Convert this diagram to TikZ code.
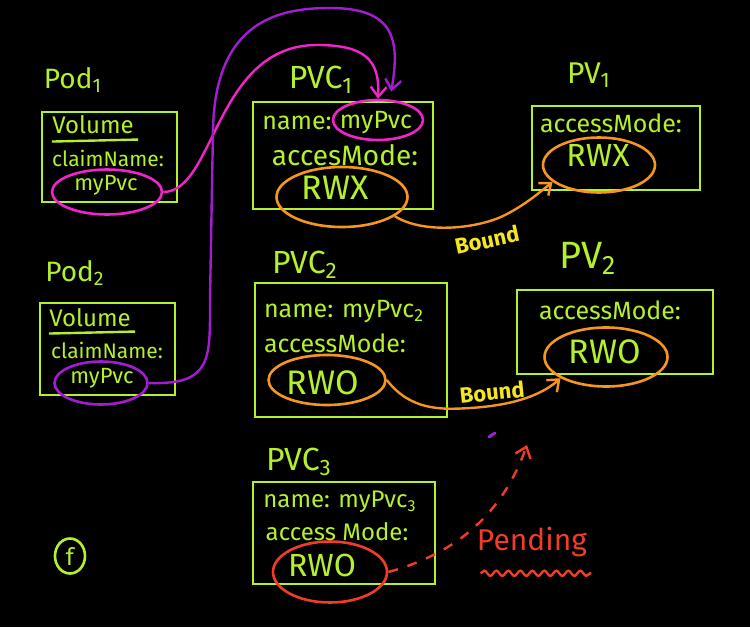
\documentclass[tikz,border=0pt]{standalone}
\usepackage{fontspec}
\setmainfont{Fira Sans}
\usepackage{tikz}
\usetikzlibrary{arrows.meta, positioning, shapes.geometric, fit, calc, decorations.pathmorphing}
\definecolor{cLime}{HTML}{B4F02C}
\definecolor{cMagenta}{HTML}{F024C8}
\definecolor{cPurple}{HTML}{A41CD2}
\definecolor{cOrange}{HTML}{F5961E}
\definecolor{cYellow}{HTML}{F5E61E}
\definecolor{cRed}{HTML}{F03C28}

\begin{document}
\begin{tikzpicture}[
    x=0.5pt, y=-0.5pt,
    box/.style={draw=cLime, line width=1.4pt, inner sep=0pt},
    title/.style={text=cLime, inner sep=0pt},
    field/.style={text=cLime, font=\fontsize{12.5}{12.5}\selectfont, inner sep=0pt},
    podfield/.style={text=cLime, font=\fontsize{10.5}{10.5}\selectfont, inner sep=0pt},
    val/.style={text=cLime, font=\fontsize{17}{17}\selectfont, inner sep=0pt},
    ring/.style={ellipse, draw=#1, line width=1.3pt, inner sep=0pt},
    link/.style={draw=#1, line width=1.2pt, -{Straight Barb[length=5pt, width=8pt]}},
    tag/.style={text=cYellow, font=\fontsize{11}{11}\selectfont\bfseries, inner sep=0pt},
]

% ---------- Background ----------
\fill[black] (0,0) rectangle (750,627);

% ---------- Titles ----------
\foreach \nm/\px/\py/\sz/\txt in {podA/73/80/14/Pod\textsubscript{1},
    podB/75/273/14/Pod\textsubscript{2}, pvcA/321/80/16/PVC\textsubscript{1},
    pvcB/305/265/16/PVC\textsubscript{2}, pvcC/299/462/16/PVC\textsubscript{3},
    pvA/589/75/15/PV\textsubscript{1}, pvB/588/258/19/PV\textsubscript{2}}{
  \node[title, font=\fontsize{\sz}{\sz}\selectfont] (\nm-title) at (\px,\py) {\txt};
}

% ---------- Boxes ----------
\node[box, fit={(42,112) (177,202)}] (podA) {};
\node[box, fit={(40,303) (175,395)}] (podB) {};
\node[box, fit={(253,102) (433,209)}] (pvcA) {};
\node[box, fit={(255,283) (447,417)}] (pvcB) {};
\node[box, fit={(253,482) (435,584)}] (pvcC) {};
\node[box, fit={(532,106) (700,190)}] (pvA) {};
\node[box, fit={(517,290) (713,374)}] (pvB) {};

% ---------- Pods ----------
\node[podfield, font=\fontsize{12}{12}\selectfont] (podAvol) at (93,125) {Volume};
\node[podfield] (podAclaim) at (108,158) {claimName:};
\node[podfield, font=\fontsize{11}{11}\selectfont] (podAtext) at (106,185) {myPvc};
\node[ring=cMagenta, minimum width=55pt, minimum height=22.5pt] (podAref) at (107,192) {};
\draw[cLime, line width=1.2pt] ($(podAvol.south west)+(0,7)$) -- ($(podAvol.south east)+(4,5)$);

\node[podfield, font=\fontsize{12}{12}\selectfont] (podBvol) at (90,318) {Volume};
\node[podfield] (podBclaim) at (107,350) {claimName:};
\node[podfield, font=\fontsize{11}{11}\selectfont] (podBtext) at (102,378) {myPvc};
\node[ring=cPurple, minimum width=46.5pt, minimum height=21.5pt] (podBref) at (101,383) {};
\draw[cLime, line width=1.2pt] ($(podBvol.south west)+(0,6)$) -- ($(podBvol.south east)+(4,4)$);

% ---------- PVCs ----------
\node[field] (pvcAkey) at (297,123) {name:};
\node[field] (pvcAtext) at (376,123) {myPvc};
\node[ring=cMagenta, minimum width=45pt, minimum height=20pt] (pvcAname) at (378,120) {};
\node[field, font=\fontsize{14}{14}\selectfont] (pvcAlab) at (345,155) {accesMode:};
\node[val] (pvcAval) at (335,188) {RWX};
\node[ring=cOrange, minimum width=65.5pt, minimum height=30pt] (pvcAmode) at (342,197) {};

\node[field] (pvcBkey) at (344,312) {name: myPvc\textsubscript{2}};
\node[field] (pvcBlab) at (335,343) {accessMode:};
\node[val] (pvcBval) at (323,383) {RWO};
\node[ring=cOrange, minimum width=58.5pt, minimum height=25pt] (pvcBmode) at (327,380) {};

\node[field, font=\fontsize{12}{12}\selectfont] (pvcCkey) at (340,502) {name: myPvc\textsubscript{3}};
\node[field, font=\fontsize{12}{12}\selectfont] (pvcClab) at (337,532) {access Mode:};
\node[val, font=\fontsize{16}{16}\selectfont] (pvcCval) at (322,565) {RWO};
\node[ring=cRed, minimum width=57pt, minimum height=30.5pt] (pvcCmode) at (330,572) {};

% ---------- PVs ----------
\node[field] (pvAlab) at (611,123) {accessMode:};
\node[val, font=\fontsize{16}{16}\selectfont] (pvAval) at (598,155) {RWX};
\node[ring=cOrange, minimum width=56pt, minimum height=27.5pt] (pvAmode) at (599,165) {};

\node[field] (pvBlab) at (610,310) {accessMode:};
\node[val] (pvBval) at (605,352) {RWO};
\node[ring=cOrange, minimum width=61.5pt, minimum height=29.5pt] (pvBmode) at (606,357) {};

% ---------- Claim arcs ----------
\draw[link=cMagenta] (podAref.east) .. controls (215,192) and (215,45) .. (317,45)
  .. controls (365,45) and (380,60) .. (pvcAname.north);
\draw[link=cPurple, shorten >=4pt] (podBref.east) .. controls (212,385) and (210,360) .. (210,300)
  -- (213,130) .. controls (215,20) and (280,8) .. (330,8)
  .. controls (395,8) and (400,40) .. (pvcAname.60);

% ---------- Bindings ----------
\draw[link=cOrange] (pvcAmode.-20) .. controls (425,235) and (480,228) .. (505,215)
  .. controls (525,205) and (540,192) .. (pvAmode.-160);
\node[tag, rotate=12] (boundA) at (487,240) {Bound};

\draw[link=cOrange] (pvcBmode.east) .. controls (410,410) and (440,410) .. (470,408)
  .. controls (520,405) and (545,392) .. (pvBmode.-155);
\node[tag, rotate=6] (boundB) at (492,392) {Bound};

\coordinate (pendTip) at (527,445);
\draw[link=cRed, dash pattern=on 5pt off 5pt] (pvcCmode.east) .. controls (450,555) and (500,520) .. (pendTip);
\node[text=cRed, font=\fontsize{15}{15}\selectfont, inner sep=0pt] (pend) at (532,542) {Pending};
\draw[cRed, line width=1.2pt, decorate, decoration={snake, amplitude=1.3pt, segment length=6pt}]
  ($(pend.south west)+(4,16)$) -- ($(pend.south east)+(4,16)$);

% ---------- Marks ----------
\draw[cPurple, line width=1.5pt, line cap=round] (489,437) -- (495,433);
\node[ring=cLime, minimum width=15pt, minimum height=17.5pt, text=cLime,
  font=\fontsize{12}{12}\selectfont] (fmark) at (70,556) {f};

\end{tikzpicture}
\end{document}
